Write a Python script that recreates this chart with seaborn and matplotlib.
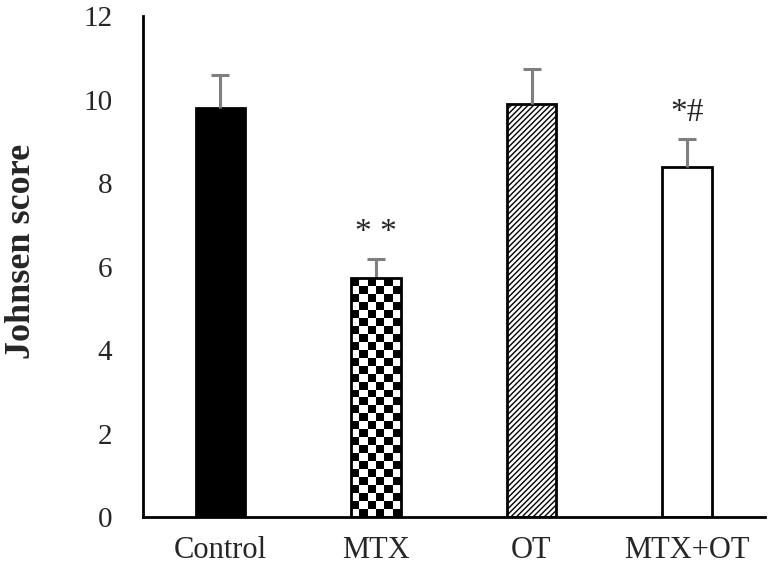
import numpy as np
import matplotlib
matplotlib.use("Agg")
import matplotlib.pyplot as plt
import seaborn as sns

groups = ["Control", "MTX", "OT", "MTX+OT"]
means = [9.8, 5.72, 9.89, 8.38]
errors = [0.8, 0.46, 0.84, 0.67]
marks = ["", "* *", "", "*#"]
yticks = [0, 2, 4, 6, 8, 10, 12]

sns.set_style("white")
plt.rcParams["font.family"] = ["Liberation Serif", "DejaVu Serif"]
plt.rcParams["hatch.linewidth"] = 1.0

fig, ax = plt.subplots(figsize=(7.71, 5.77), dpi=100)
sns.barplot(x=groups, y=means, ax=ax, width=0.32,
            palette=["black", "white", "white", "white"], hue=groups,
            legend=False, edgecolor="black", linewidth=2, saturation=1)

bars = ax.patches
bars[2].set_hatch("//////")

# upper-only error bars, grey
xs = np.arange(len(groups))
_, caps, _ = ax.errorbar(xs, means, yerr=[np.zeros(len(errors)), errors],
                         fmt="none", ecolor="#7f7f7f", elinewidth=2.2,
                         capsize=6.5, capthick=2.2, zorder=1)
caps[0].set_visible(False)

# checkerboard fill for MTX bar
b = bars[1]
rows = int(round(b.get_height() * 41.75 / 8))
cols = 6
checker = (np.indices((rows, cols)).sum(axis=0) % 2).astype(float)
im = ax.imshow(checker, cmap="gray", interpolation="nearest", aspect="auto",
               extent=[b.get_x(), b.get_x() + b.get_width(), 0, b.get_height()],
               zorder=2)
im.set_clip_path(b)
b.set_facecolor("none")
b.set_zorder(3)
ax.set_ylim(0, 12)
ax.set_xlim(-0.5, 3.5)

for x, m, e, t in zip(xs, means, errors, marks):
    if t:
        ax.annotate(t, (x, m + e), xytext=(0, 8), textcoords="offset points",
                    ha="center", va="bottom", fontsize=24)

ax.set_yticks(yticks)
ax.tick_params(axis="y", labelsize=21, length=0, pad=22)
ax.tick_params(axis="x", labelsize=22, length=0, pad=14)
ax.set_ylabel("Johnsen score", fontsize=26, fontweight="bold")
ax.yaxis.set_label_coords(-0.168, 0.53)
sns.despine(ax=ax)
for s in ["left", "bottom"]:
    ax.spines[s].set_linewidth(2)
    ax.spines[s].set_color("black")

fig.subplots_adjust(left=0.185, right=0.992, top=0.972, bottom=0.104)
fig.savefig("out.png", dpi=100)
